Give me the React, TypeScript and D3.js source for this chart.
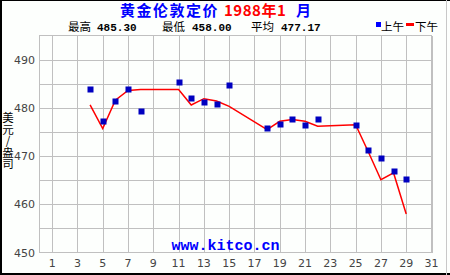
import React from "react";
import * as d3 from "d3";

const amDays = [4, 5, 6, 7, 8, 11, 12, 13, 14, 15, 18, 19, 20, 21, 22, 25, 26, 27, 28, 29];
const amValues = [484.0, 477.3, 481.5, 484.0, 479.4, 485.3, 482.1, 481.2, 480.8, 484.8, 475.9, 476.7, 477.7, 476.5, 477.7, 476.5, 471.3, 469.5, 467.0, 465.3];
const pmDays = [4, 5, 6, 7, 8, 11, 12, 13, 14, 15, 18, 19, 20, 21, 22, 25, 26, 27, 28, 29];
const pmValues = [480.6, 475.7, 481.6, 483.6, 483.8, 483.8, 480.6, 481.9, 481.4, 480.3, 475.5, 477.2, 477.6, 477.2, 476.2, 476.5, 470.9, 465.1, 466.5, 458.0];
const xTicks = [1, 3, 5, 7, 9, 11, 13, 15, 17, 19, 21, 23, 25, 27, 29, 31];
const yTicks = [450, 460, 470, 480, 490];
const yGrid = [455, 460, 465, 470, 475, 480, 485, 490];
const yLabel = "美元/盎司";

const CJK = "'Noto Sans CJK SC', sans-serif";
const SANS = "'DejaVu Sans', Verdana, sans-serif";
const MONO = "'Liberation Mono', 'DejaVu Sans Mono', monospace";

export default function App() {
  const x = d3.scaleLinear().domain([0, 31]).range([39.5, 431.5]);
  const y = d3.scaleLinear().domain([450, 495]).range([252.5, 35.5]);
  const line = d3
    .line<number>()
    .x((_, i) => x(pmDays[i]))
    .y((d) => y(d));
  const grid = "#c0c0c0";
  return (
    <svg width={450} height={275} style={{ position: "absolute", left: 0, top: 0, background: "#fdfffd" }}>
      <rect x={0} y={0} width={450} height={275} fill="#fdfffd" />
      {/* frame */}
      <line x1={1} y1={0} x2={1} y2={275} stroke="#000" strokeWidth={2} />
      <line x1={0} y1={0.5} x2={450} y2={0.5} stroke="#000" strokeWidth={1} />
      <line x1={0} y1={274} x2={450} y2={274} stroke="#000" strokeWidth={2} />
      <line x1={446.5} y1={0} x2={446.5} y2={275} stroke="#c8c8c8" strokeWidth={1} />

      {/* grid */}
      <g shapeRendering="crispEdges">
        {xTicks.map((t) => (
          <line key={"vx" + t} x1={Math.round(x(t)) + 0.5} x2={Math.round(x(t)) + 0.5} y1={y(495)} y2={y(450)} stroke={grid} />
        ))}
        {yGrid.map((t) => (
          <line key={"hy" + t} x1={x(0)} x2={x(31)} y1={Math.round(y(t)) + 0.5} y2={Math.round(y(t)) + 0.5} stroke={grid} />
        ))}
        <rect x={x(0)} y={y(495)} width={x(31) - x(0)} height={y(450) - y(495)} fill="none" stroke={grid} />
      </g>

      {/* y tick labels */}
      {yTicks.map((t) => (
        <text key={"yt" + t} x={35} y={y(t) + 4} textAnchor="end" fontFamily={SANS} fontSize={11} fill="#444">
          {t}
        </text>
      ))}
      {/* x tick labels */}
      {xTicks.map((t) => (
        <text key={"xt" + t} x={x(t)} y={267} textAnchor="middle" fontFamily={SANS} fontSize={11} fill="#444">
          {t}
        </text>
      ))}

      {/* y axis label */}
      <text
        x={8}
        y={112}
        fontFamily={CJK}
        fontSize={11.5}
        fill="#000"
        style={{ writingMode: "vertical-rl", textOrientation: "upright" } as React.CSSProperties}
      >
        {yLabel}
      </text>

      {/* watermark */}
      <text x={225.5} y={250} textAnchor="middle" fontFamily={MONO} fontWeight="bold" fontSize={15} fill="#0000ff">
        www.kitco.cn
      </text>

      {/* PM line */}
      <path d={line(pmValues) || ""} fill="none" stroke="#ff0000" strokeWidth={1.5} />

      {/* AM squares */}
      {amValues.map((v, i) => (
        <rect key={"am" + i} x={Math.round(x(amDays[i])) - 2.5} y={Math.round(y(v)) - 2.5} width={6} height={6} fill="#0000c0" />
      ))}

      {/* title */}
      <text y={16} fontFamily={CJK} fontWeight="bold" fontSize={15} letterSpacing={1.5}>
        <tspan x={120} fill="#0000ff">黄金伦敦定价</tspan>
        <tspan x={224} fill="#ff0000" letterSpacing={0.5}>1988年1</tspan>
        <tspan x={296} fill="#0000ff">月</tspan>
      </text>

      {/* stats */}
      <text x={68} y={31} fontFamily={CJK} fontSize={11.5} fill="#000">最高</text>
      <text x={97} y={31} fontFamily={MONO} fontWeight="bold" fontSize={11} fill="#000">485.30</text>
      <text x={162} y={31} fontFamily={CJK} fontSize={11.5} fill="#000">最低</text>
      <text x={192} y={31} fontFamily={MONO} fontWeight="bold" fontSize={11} fill="#000">458.00</text>
      <text x={251} y={31} fontFamily={CJK} fontSize={11.5} fill="#000">平均</text>
      <text x={281} y={31} fontFamily={MONO} fontWeight="bold" fontSize={11} fill="#000">477.17</text>

      {/* legend */}
      <rect x={376} y={22} width={5} height={5} fill="#0000ff" />
      <text x={381} y={31} fontFamily={CJK} fontSize={11.5} fill="#000">上午</text>
      <rect x={406} y={23} width={8} height={3} fill="#ff0000" />
      <text x={415} y={31} fontFamily={CJK} fontSize={11.5} fill="#000">下午</text>
    </svg>
  );
}
